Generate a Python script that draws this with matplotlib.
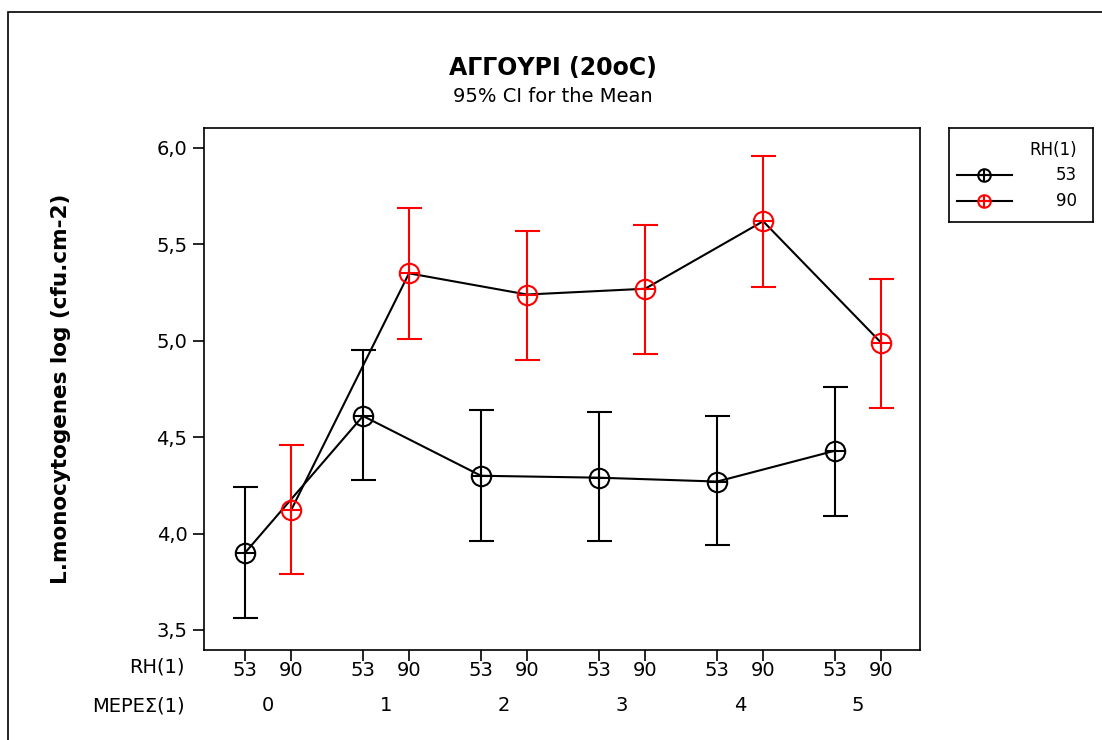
import numpy as np
import matplotlib.pyplot as plt
from matplotlib.patches import Rectangle

plt.rcParams['font.family'] = ['DejaVu Sans']

days = [0, 1, 2, 3, 4, 5]
rh_levels = ['53', '90']

mean_53 = [3.90, 4.61, 4.30, 4.29, 4.27, 4.43]
low_53 = [3.56, 4.28, 3.96, 3.96, 3.94, 4.09]
high_53 = [4.24, 4.95, 4.64, 4.63, 4.61, 4.76]

mean_90 = [4.12, 5.35, 5.24, 5.27, 5.62, 4.99]
low_90 = [3.79, 5.01, 4.90, 4.93, 5.28, 4.65]
high_90 = [4.46, 5.69, 5.57, 5.60, 5.96, 5.32]

colors = ['black', 'red']
W, H = 1102, 740
fig = plt.figure(figsize=(W / 100, H / 100), dpi=100)

def px(x0, y0, x1, y1):
    return [x0 / W, 1 - y1 / H, (x1 - x0) / W, (y1 - y0) / H]

ax = fig.add_axes(px(204, 128, 920, 650))

gap = 118 / 46
pos = {}
for j, rh in enumerate(rh_levels):
    pos[rh] = np.array(days) * gap + j

series = [(mean_53, low_53, high_53), (mean_90, low_90, high_90)]
for j, (m, lo, hi) in enumerate(series):
    x = pos[rh_levels[j]]
    m = np.array(m)
    err = [m - np.array(lo), np.array(hi) - m]
    ax.plot(x, m, color='black', lw=1.5, zorder=2)
    ax.errorbar(x, m, yerr=err, fmt='none', ecolor=colors[j], elinewidth=1.5,
                capsize=9, capthick=1.5, zorder=3)
    ax.plot(x, m, 'o', ms=14, mfc='none', mec=colors[j], mew=1.5, zorder=4)
    ax.plot(x, m, '+', ms=14, mec=colors[j], mew=1.5, zorder=4)

ax.set_xlim(-0.89, 14.67)
ax.set_ylim(3.5 - 20 / 192.8, 6.0 + 20 / 192.8)
yt = [3.5, 4.0, 4.5, 5.0, 5.5, 6.0]
ax.set_yticks(yt)
ax.set_yticklabels([f'{v:.1f}'.replace('.', ',') for v in yt], fontsize=14)
xt = np.concatenate([pos['53'], pos['90']])
ax.set_xticks(xt)
ax.set_xticklabels(['53'] * 6 + ['90'] * 6, fontsize=14)
ax.tick_params(direction='out', length=8, width=1.2, pad=4)
ax.tick_params(axis='x', pad=0)
for s in ax.spines.values():
    s.set_linewidth(1.2)

# row labels under the axis
fig.text(185 / W, 1 - 667 / H, 'RH(1)', ha='right', va='center', fontsize=14)
fig.text(185 / W, 1 - 706 / H, 'ΜΕΡΕΣ(1)', ha='right', va='center', fontsize=14)
for d in days:
    xc = (pos['53'][d] + pos['90'][d]) / 2
    ax.text(xc, -0.107, str(d), transform=ax.get_xaxis_transform(),
            ha='center', va='center', fontsize=14)

fig.text(61 / W, 1 - 389 / H, 'L.monocytogenes log (cfu.cm-2)', rotation=90,
         ha='center', va='center', fontsize=15.5, fontweight='bold')
fig.text(553 / W, 1 - 68 / H, 'ΑΓΓΟΥΡΙ (20oC)', ha='center', va='center',
         fontsize=17, fontweight='bold')
fig.text(553 / W, 1 - 97 / H, '95% CI for the Mean', ha='center', va='center',
         fontsize=14)

# legend box
lax = fig.add_axes(px(949, 128, 1093, 222))
lax.set_xlim(949, 1093)
lax.set_ylim(222, 128)
lax.set_xticks([])
lax.set_yticks([])
for s in lax.spines.values():
    s.set_linewidth(1.2)
lax.text(1077, 150, 'RH(1)', ha='right', va='center', fontsize=12)
for j, (lab, yy) in enumerate(zip(rh_levels, [175, 201])):
    lax.plot([957, 1012], [yy, yy], color='black', lw=1.5)
    lax.plot([984], [yy], 'o', ms=9, mfc='none', mec=colors[j], mew=1.5)
    lax.plot([984], [yy], '+', ms=9, mec=colors[j], mew=1.5)
    lax.text(1077, yy, lab, ha='right', va='center', fontsize=12)

# outer frame
fig.patches.append(Rectangle((8 / W, -0.1), 1.2, 1 - 12 / H + 0.1,
                             transform=fig.transFigure, fill=False,
                             edgecolor='black', lw=1.2))

fig.savefig('out.png', dpi=100)
